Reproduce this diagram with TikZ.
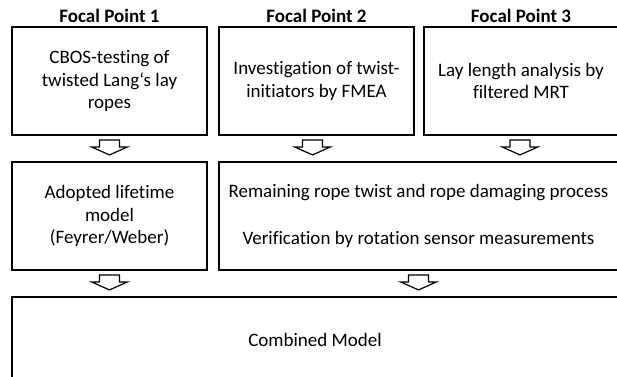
\documentclass[tikz,border=0pt]{standalone}
\usepackage{fontspec}
\setmainfont{Carlito}[Ligatures=NoCommon]
\usetikzlibrary{calc}
\tikzset{
  box/.style={draw, line width=1.8pt, align=center, inner sep=2pt,
    font=\fontsize{19}{22.5}\selectfont},
  header/.style={font=\fontsize{19}{22.5}\selectfont\bfseries, inner sep=0pt},
  blockarrow/.pic={\draw[line width=1.2pt, line join=miter, fill=white]
    (-10,0) -- (10,0) -- (10,7) -- (18,7) -- (0,15) -- (-18,7) -- (-10,7) -- cycle;}
}
\begin{document}
\begin{tikzpicture}[x=1pt,y=-1pt]
\useasboundingbox (0,0) rectangle (617,376);
% row 1
\node[box, minimum width=195pt, minimum height=108pt] (b1) at (109.5,81)
  {CBOS-testing of\\twisted Lang‘s lay\\ropes};
\node[box, minimum width=195pt, minimum height=108pt] (b2) at (316.5,81)
  {Investigation of twist-\\initiators by FMEA};
\node[box, minimum width=194pt, minimum height=108pt] (b3) at (521,81)
  {Lay length analysis by\\filtered MRT};
% headers
\node[header] (h1) at (109.5,16) {Focal Point 1};
\node[header] (h2) at (316.5,16) {Focal Point 2};
\node[header] (h3) at (521,16) {Focal Point 3};
% row 2
\node[box, minimum width=195pt, minimum height=108pt] (b4) at (109.5,216)
  {Adopted lifetime\\model\\(Feyrer/Weber)};
\node[box, minimum width=399pt, minimum height=108pt] (b5) at (418.5,216)
  {Remaining rope twist and rope damaging process\\[24pt]Verification by rotation sensor measurements};
% row 3
\node[box, minimum width=606pt, minimum height=86pt] (b6) at (315,340)
  {Combined Model};
% arrows
\pic at ($(b1.south)+(0,4)$) {blockarrow};
\pic at ($(b2.south)+(-4,4)$) {blockarrow};
\pic at ($(b3.south)+(-1,4)$) {blockarrow};
\pic at ($(b4.south)+(0,4)$) {blockarrow};
\pic at ($(b5.south)+(0,4)$) {blockarrow};
\end{tikzpicture}
\end{document}
